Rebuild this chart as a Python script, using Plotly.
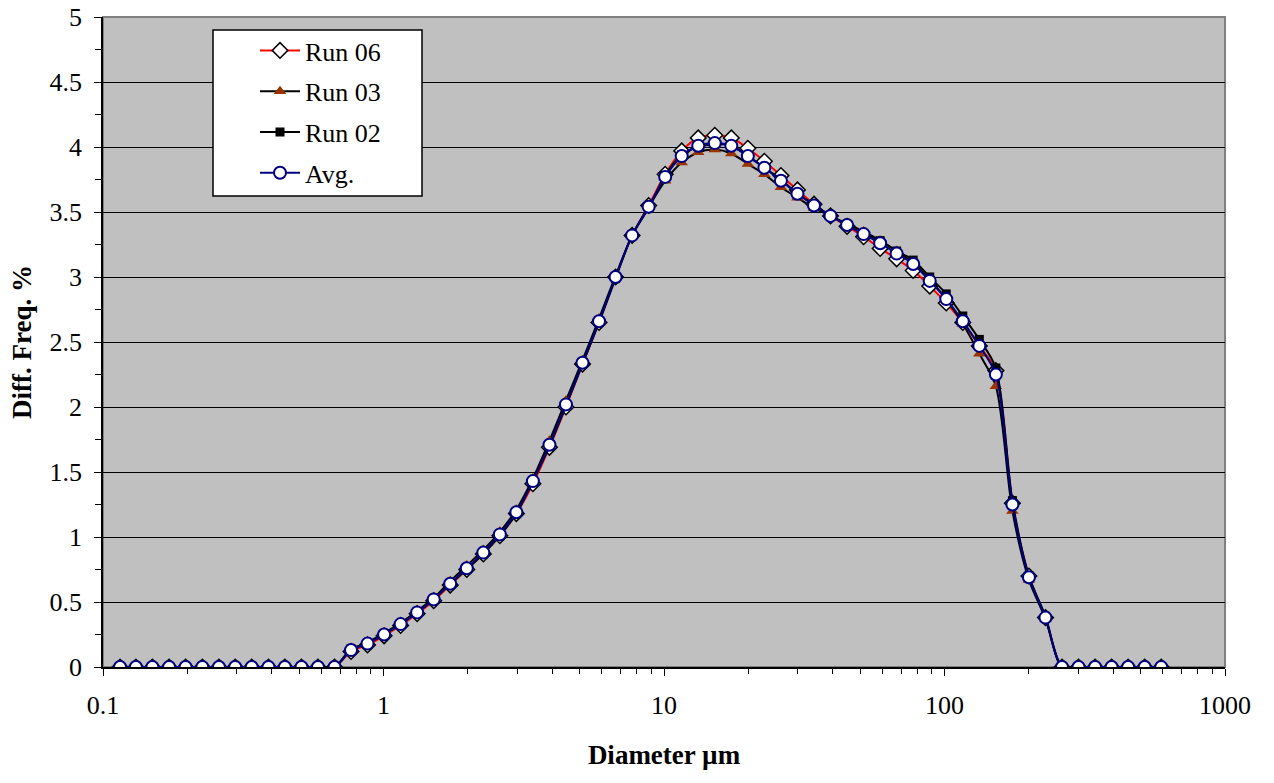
import plotly.graph_objects as go

# Particle diameters (µm)
diameter = [0.115, 0.131, 0.150, 0.172, 0.197, 0.226, 0.259, 0.296, 0.339, 0.389,
            0.445, 0.510, 0.584, 0.669, 0.766, 0.877, 1.005, 1.151, 1.318, 1.510,
            1.729, 1.981, 2.269, 2.599, 2.976, 3.409, 3.905, 4.472, 5.122, 5.867,
            6.720, 7.697, 8.816, 10.097, 11.565, 13.246, 15.172, 17.377, 19.904, 22.797,
            26.111, 29.907, 34.255, 39.234, 44.938, 51.471, 58.953, 67.523, 77.339, 88.583,
            101.46, 116.21, 133.10, 152.45, 174.62, 200.00, 229.07, 262.37, 300.51, 344.19,
            394.23, 451.54, 517.18, 592.39]

zeros_low = [0] * 14
zeros_high = [0] * 7

run06 = zeros_low + [0.12, 0.17, 0.24, 0.32, 0.41, 0.51, 0.63, 0.75, 0.87, 1.01,
                     1.18, 1.41, 1.69, 2.00, 2.33, 2.65, 3.00, 3.32, 3.55, 3.79,
                     3.97, 4.07, 4.09, 4.07, 3.99, 3.89, 3.78, 3.67, 3.56, 3.47,
                     3.39, 3.31, 3.22, 3.14, 3.05, 2.93, 2.80, 2.65, 2.47, 2.28,
                     1.26, 0.70, 0.38] + zeros_high
run03 = zeros_low + [0.13, 0.19, 0.26, 0.34, 0.43, 0.53, 0.66, 0.78, 0.90, 1.04,
                     1.21, 1.45, 1.74, 2.05, 2.36, 2.68, 3.01, 3.32, 3.54, 3.74,
                     3.88, 3.96, 3.98, 3.95, 3.87, 3.79, 3.69, 3.61, 3.53, 3.47,
                     3.41, 3.35, 3.28, 3.20, 3.11, 2.98, 2.83, 2.64, 2.41, 2.16,
                     1.20, 0.67, 0.37] + zeros_high
run02 = zeros_low + [0.14, 0.18, 0.25, 0.33, 0.42, 0.52, 0.64, 0.75, 0.87, 1.01,
                     1.18, 1.43, 1.70, 2.01, 2.33, 2.65, 2.99, 3.32, 3.53, 3.78,
                     3.94, 4.00, 4.02, 4.01, 3.93, 3.84, 3.75, 3.64, 3.56, 3.47,
                     3.40, 3.33, 3.28, 3.20, 3.13, 3.00, 2.87, 2.70, 2.52, 2.30,
                     1.28, 0.70, 0.39] + zeros_high
avg = zeros_low + [0.13, 0.18, 0.25, 0.33, 0.42, 0.52, 0.64, 0.76, 0.88, 1.02,
                   1.19, 1.43, 1.71, 2.02, 2.34, 2.66, 3.00, 3.32, 3.54, 3.77,
                   3.93, 4.01, 4.03, 4.01, 3.93, 3.84, 3.74, 3.64, 3.55, 3.47,
                   3.40, 3.33, 3.26, 3.18, 3.10, 2.97, 2.83, 2.66, 2.47, 2.25,
                   1.25, 0.69, 0.38] + zeros_high

x_tickvals = [0.1, 1, 10, 100, 1000]
x_ticktext = ["0.1", "1", "10", "100", "1000"]
x_minor_vals = [m * d for d in (0.1, 1, 10, 100) for m in range(2, 10)]
y_tickvals = [0, 0.5, 1, 1.5, 2, 2.5, 3, 3.5, 4, 4.5, 5]
y_ticktext = ["0", "0.5", "1", "1.5", "2", "2.5", "3", "3.5", "4", "4.5", "5"]

FONT = "Liberation Serif"

L, R, T, B = 103, 1225, 17, 667
PW, PH = R - L, B - T

fig = go.Figure()
series = [
    ("Run 06", run06, "red", dict(symbol="diamond", size=12, color="white",
                                  line=dict(color="black", width=1.5))),
    ("Run 03", run03, "black", dict(symbol="triangle-up", size=11, color="#993300",
                                    line=dict(color="#993300", width=0))),
    ("Run 02", run02, "black", dict(symbol="square", size=9, color="black",
                                    line=dict(color="black", width=0))),
    ("Avg.", avg, "#000080", dict(symbol="circle", size=12, color="white",
                                  line=dict(color="#000080", width=2))),
]
for i, (name, ys, lc, mk) in enumerate(series):
    fig.add_trace(go.Scatter(
        x=diameter, y=ys, name=name, mode="lines+markers",
        line=dict(color=lc, width=2, shape="spline", smoothing=0.8),
        marker=mk, legendgroup=f"g{i}",
    ))

fig.update_layout(
    width=1274, height=783,
    margin=dict(l=L, r=1274 - R, t=T, b=783 - B, autoexpand=False),
    paper_bgcolor="white",
    plot_bgcolor="#C0C0C0",
    font=dict(family=FONT, size=26, color="black"),
    showlegend=True,
    legend=dict(
        x=(255 - L) / PW, y=(B - 27) / PH,
        xanchor="left", yanchor="top",
        bgcolor="rgba(0,0,0,0)", borderwidth=0,
        itemwidth=40, tracegroupgap=4, traceorder="grouped",
        font=dict(family=FONT, size=26, color="black"),
    ),
    xaxis=dict(
        type="log", range=[-1, 3], automargin=False,
        tickmode="array", tickvals=x_tickvals, ticktext=x_ticktext,
        ticks="outside", ticklen=7, tickwidth=1, tickcolor="black",
        minor=dict(tickmode="array", tickvals=x_minor_vals, ticks="outside",
                   ticklen=5, tickwidth=1, tickcolor="black", showgrid=False),
        showgrid=False, zeroline=False,
        showline=True, linecolor="black", linewidth=1.5,
        ticklabelstandoff=7, ticklabeloverflow="allow",
        title=dict(text="<b>Diameter µm</b>", font=dict(family=FONT, size=27), standoff=26),
    ),
    yaxis=dict(
        range=[0, 5], automargin=False,
        tickmode="array", tickvals=y_tickvals, ticktext=y_ticktext,
        ticks="outside", ticklen=7, tickwidth=1, tickcolor="black",
        minor=dict(dtick=0.25, ticks="outside", ticklen=6, tickwidth=1, tickcolor="black",
                   showgrid=False),
        showgrid=True, gridcolor="black", gridwidth=1,
        zeroline=False,
        showline=True, linecolor="black", linewidth=1.5,
        ticklabelstandoff=7, ticklabeloverflow="allow",
        title=dict(text="<b>Diff. Freq. %</b>", font=dict(family=FONT, size=27), standoff=10),
    ),
    shapes=[
        dict(type="rect", xref="paper", yref="paper", x0=0, x1=1, y0=0, y1=1,
             line=dict(color="#808080", width=2), fillcolor="rgba(0,0,0,0)", layer="below"),
        dict(type="rect", xref="paper", yref="paper",
             x0=(213 - L) / PW, x1=(422 - L) / PW,
             y0=(B - 196) / PH, y1=(B - 30) / PH,
             line=dict(color="black", width=1.5), fillcolor="white", layer="above"),
    ],
)

fig.write_html("out.html", config={"displayModeBar": False},
               post_script="document.body.style.margin='0';")
